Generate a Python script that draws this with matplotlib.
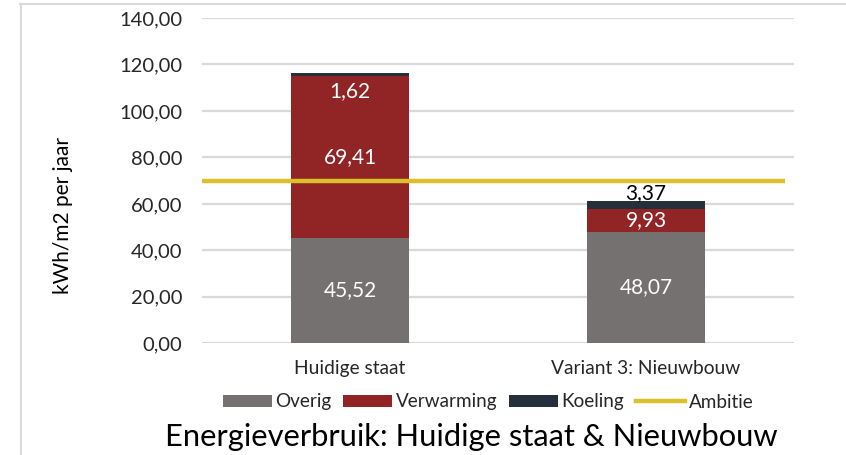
import matplotlib
matplotlib.use("Agg")
import matplotlib.pyplot as plt
from matplotlib.lines import Line2D
from matplotlib.patches import Patch

# ---- data ------------------------------------------------------------------
categories = ["Huidige staat", "Variant 3: Nieuwbouw"]
overig = [45.52, 48.07]
verwarming = [69.41, 9.93]
koeling = [1.62, 3.37]
ambitie = 70.0
y_ticks = [0, 20, 40, 60, 80, 100, 120, 140]

# ---- style -----------------------------------------------------------------
GRAY = "#767171"
RED = "#912424"
NAVY = "#262f3c"
YELLOW = "#dbc02b"
GRID = "#d9d9d9"
TEXT = "#262626"

plt.rcParams["font.family"] = ["Lato", "DejaVu Sans"]


def fmt(v):
    return f"{v:.2f}".replace(".", ",")


fig = plt.figure(figsize=(8.46, 4.55), dpi=100, facecolor="white")
ax = fig.add_axes([0.2388, 0.2455, 0.6997, 0.7149])

x = list(range(len(categories)))
width = 0.4
bottom2 = [a + b for a, b in zip(overig, verwarming)]

ax.bar(x, overig, width, color=GRAY, zorder=3, label="Overig")
ax.bar(x, verwarming, width, bottom=overig, color=RED, zorder=3,
       label="Verwarming")
ax.bar(x, koeling, width, bottom=bottom2, color=NAVY, zorder=3,
       label="Koeling")

# ambition line runs across almost the whole plot area
ax.plot([-0.5, 1.47], [ambitie, ambitie], color=YELLOW, linewidth=3.2,
        solid_capstyle="butt", zorder=4)

# ---- data labels -----------------------------------------------------------
lab_fs = 15
for i in x:
    ax.text(i, overig[i] / 2, fmt(overig[i]), ha="center", va="center",
            color="white", fontsize=lab_fs, zorder=5)
    ax.text(i, overig[i] + verwarming[i] / 2, fmt(verwarming[i]),
            ha="center", va="center", color="white", fontsize=lab_fs,
            zorder=5)
# small cooling slices: labels moved by hand in the original
koel_dy = [-8.0, 3.4]
koel_col = ["white", "black"]
for i in x:
    top = bottom2[i] + koeling[i]
    ax.text(i, top + koel_dy[i], fmt(koeling[i]), ha="center",
            va="center", color=koel_col[i], fontsize=lab_fs, zorder=5)

# ---- axes ------------------------------------------------------------------
ax.set_xlim(-0.5, 1.5)
ax.set_ylim(0, 140)
ax.set_yticks(y_ticks)
ax.set_yticklabels([fmt(t) for t in y_ticks], fontsize=14.5, color=TEXT)
ax.set_xticks(x)
ax.set_xticklabels(categories, fontsize=13.8, color=TEXT)
ax.tick_params(axis="both", length=0)
ax.tick_params(axis="y", pad=14)
ax.tick_params(axis="x", pad=12)
ax.grid(axis="y", color=GRID, linewidth=1.6, zorder=0)
for s in ax.spines.values():
    s.set_visible(False)

fig.text(63 / 846, 1 - 215 / 455, "kWh/m2 per jaar", rotation=90,
         ha="center", va="center", fontsize=15, color="black")

handles = [
    Patch(facecolor=GRAY, label="Overig"),
    Patch(facecolor=RED, label="Verwarming"),
    Patch(facecolor=NAVY, label="Koeling"),
    Line2D([0], [0], color=YELLOW, linewidth=3.2, label="Ambitie"),
]
fig.legend(handles=handles, loc="center", bbox_to_anchor=(488 / 846, 1 - 402 / 455),
           ncol=4, frameon=False, fontsize=13.6, handlelength=2.6,
           handleheight=0.65, handletextpad=0.2, columnspacing=0.6,
           labelcolor=TEXT)

fig.text(471 / 846, 1 - 437 / 455, "Energieverbruik: Huidige staat & Nieuwbouw",
         ha="center", va="center", fontsize=22.2, color="black")

# light chart frame (top and left edges visible)
fig.add_artist(Line2D([20 / 846, 1], [1 - 4 / 455, 1 - 4 / 455],
                      transform=fig.transFigure, color=GRID, linewidth=1.5))
fig.add_artist(Line2D([21 / 846, 21 / 846], [0, 1 - 4 / 455],
                      transform=fig.transFigure, color=GRID, linewidth=1.5))

fig.savefig("out.png", dpi=100, facecolor="white")
